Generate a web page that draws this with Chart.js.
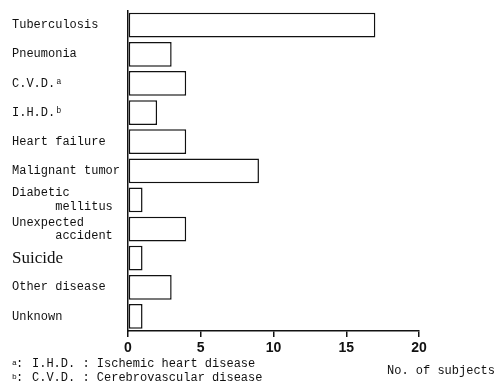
<!DOCTYPE html>
<html>
<head>
<meta charset="utf-8">
<script src="https://cdn.jsdelivr.net/npm/chart.js@4"></script>
<style>
  html, body { margin: 0; padding: 0; background: #fff; }
  #wrap { width: 500px; height: 387px; }
</style>
</head>
<body>
<div id="wrap"><canvas id="grafico"></canvas></div>
<script>
// Causas de muerte (etiquetas del eje vertical)
const causas = [
  "Tuberculosis",
  "Pneumonia",
  "C.V.D.\u1D43",
  "I.H.D.\u1D47",
  "Heart failure",
  "Malignant tumor",
  ["Diabetic", "      mellitus"],
  ["Unexpected", "      accident"],
  "Suicide",
  "Other disease",
  "Unknown",
];
// Numero de sujetos por causa
const sujetos = [17, 3, 4, 2, 4, 9, 1, 4, 1, 3, 1];
const ejeMin = 0;
const ejeMax = 20;
const paso = 5;
const tituloEje = "No. of subjects";
const notas = [
  ["a", "I.H.D. : Ischemic heart disease"],
  ["b", "C.V.D. : Cerebrovascular disease"],
];

const MONO = "'Liberation Mono', 'DejaVu Sans Mono', monospace";

// notas al pie y titulo del eje
const notasPlugin = {
  id: "notas",
  afterDraw(chart) {
    const ctx = chart.ctx;
    const x = chart.scales.x;
    ctx.save();
    ctx.fillStyle = "#111";
    ctx.textBaseline = "middle";
    ctx.textAlign = "left";
    ctx.font = "12px " + MONO;
    ctx.fillText(tituloEje, x.right - 32, 371);
    notas.forEach(([letra, texto], i) => {
      const y = 364 + i * 14;
      ctx.font = "8px " + MONO;
      ctx.fillText(letra, 12, y - 1);
      ctx.font = "12px " + MONO;
      ctx.fillText(":", 16, y);
      ctx.fillText(texto, 32, y);
    });
    ctx.restore();
  },
};

new Chart(document.getElementById("grafico"), {
  type: "bar",
  data: {
    labels: causas,
    datasets: [
      {
        data: sujetos,
        backgroundColor: "#fff",
        borderColor: "#111",
        borderWidth: 1.5,
        borderSkipped: false,
        barPercentage: 0.85,
        categoryPercentage: 1.0,
      },
    ],
  },
  options: {
    indexAxis: "y",
    responsive: true,
    maintainAspectRatio: false,
    animation: false,
    layout: { padding: { left: 12, top: 6, right: 81, bottom: 0 } },
    plugins: {
      legend: { display: false },
      tooltip: { enabled: false },
    },
    scales: {
      y: {
        afterFit: (scale) => { scale.width = 116; },
        grid: { display: true, drawOnChartArea: false, drawTicks: false },
        border: { display: true, color: "#111", width: 1.5 },
        ticks: {
          autoSkip: false,
          crossAlign: "far",
          color: "#111",
          padding: 4,
          font: (c) =>
            causas[c.index] === "Suicide"
              ? { family: "'Liberation Serif', serif", size: 17 }
              : { family: MONO, size: 12, lineHeight: 1.1 },
        },
      },
      x: {
        min: ejeMin,
        max: ejeMax,
        afterFit: (scale) => { scale.height = 56; },
        grid: {
          drawOnChartArea: false,
          drawTicks: true,
          tickLength: 6,
          color: "#111",
          lineWidth: 1.5,
        },
        border: { display: true, color: "#111", width: 1.5 },
        ticks: {
          stepSize: paso,
          color: "#111",
          padding: 3,
          font: {
            family: "'Liberation Sans Narrow', 'Liberation Sans', sans-serif",
            size: 14,
            weight: "bold",
          },
        },
      },
    },
  },
  plugins: [notasPlugin],
});
</script>
</body>
</html>
